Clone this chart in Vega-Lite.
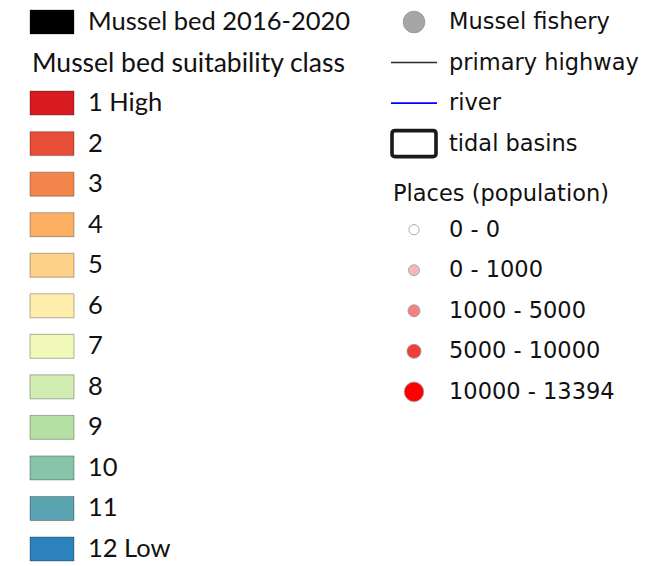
{
  "$schema": "https://vega.github.io/schema/vega-lite/v6.json",
  "width": 646,
  "height": 566,
  "padding": 0,
  "autosize": {"type": "fit", "contains": "padding"},
  "background": "white",
  "config": {"view": {"stroke": null}},
  "data": {"values": [
    {"col": 0, "row": 0, "kind": "swatch", "key": "bed", "label": "Mussel bed 2016-2020"},
    {"col": 0, "row": 1, "kind": "title", "label": "Mussel bed suitability class"},
    {"col": 0, "row": 2, "kind": "swatch", "key": "c1", "label": "1 High"},
    {"col": 0, "row": 3, "kind": "swatch", "key": "c2", "label": "2"},
    {"col": 0, "row": 4, "kind": "swatch", "key": "c3", "label": "3"},
    {"col": 0, "row": 5, "kind": "swatch", "key": "c4", "label": "4"},
    {"col": 0, "row": 6, "kind": "swatch", "key": "c5", "label": "5"},
    {"col": 0, "row": 7, "kind": "swatch", "key": "c6", "label": "6"},
    {"col": 0, "row": 8, "kind": "swatch", "key": "c7", "label": "7"},
    {"col": 0, "row": 9, "kind": "swatch", "key": "c8", "label": "8"},
    {"col": 0, "row": 10, "kind": "swatch", "key": "c9", "label": "9"},
    {"col": 0, "row": 11, "kind": "swatch", "key": "c10", "label": "10"},
    {"col": 0, "row": 12, "kind": "swatch", "key": "c11", "label": "11"},
    {"col": 0, "row": 13, "kind": "swatch", "key": "c12", "label": "12 Low"},
    {"col": 1, "row": 0, "kind": "fishery", "key": "fishery", "label": "Mussel fishery"},
    {"col": 1, "row": 1, "kind": "line", "key": "highway", "label": "primary highway"},
    {"col": 1, "row": 2, "kind": "line", "key": "river", "label": "river"},
    {"col": 1, "row": 3, "kind": "basin", "key": "basin", "label": "tidal basins"},
    {"col": 1, "row": 4, "kind": "title", "label": "Places (population)"},
    {"col": 1, "row": 5, "kind": "place", "key": "p0", "label": "0 - 0"},
    {"col": 1, "row": 6, "kind": "place", "key": "p1", "label": "0 - 1000"},
    {"col": 1, "row": 7, "kind": "place", "key": "p2", "label": "1000 - 5000"},
    {"col": 1, "row": 8, "kind": "place", "key": "p3", "label": "5000 - 10000"},
    {"col": 1, "row": 9, "kind": "place", "key": "p4", "label": "10000 - 13394"}
  ]},
  "encoding": {
    "x": {"field": "col", "type": "quantitative", "axis": null, "scale": {"domain": [0, 1], "range": [52, 414]}},
    "y": {"field": "row", "type": "quantitative", "axis": null, "scale": {"domain": [0, 13], "range": [22, 549]}}
  },
  "layer": [
    {
      "transform": [{"filter": "datum.kind == 'swatch'"}],
      "mark": {"type": "point", "filled": true, "shape": "M-1,-0.545H1V0.545H-1Z", "size": 1936, "opacity": 1, "stroke": "#000000", "strokeOpacity": 0.3, "strokeWidth": 1},
      "encoding": {
        "fill": {"field": "key", "type": "nominal", "legend": null, "scale": {
          "type": "ordinal",
          "domain": ["bed", "c1", "c2", "c3", "c4", "c5", "c6", "c7", "c8", "c9", "c10", "c11", "c12", "fishery", "p0", "p1", "p2", "p3", "p4"],
          "range": ["#000000", "#d91b21", "#e64e37", "#f3854b", "#fdb063", "#fed18b", "#ffedac", "#f1f9ba", "#d2edb1", "#b4e0a3", "#88c4a8", "#5aa3b1", "#2c82ba", "#a6a6a6", "#ffffff", "#f7b8b8", "#f58282", "#f23d3d", "#ff0000"]}}
      }
    },
    {
      "transform": [{"filter": "datum.kind == 'fishery'"}],
      "mark": {"type": "point", "filled": true, "shape": "circle", "size": 470, "opacity": 1, "stroke": "#8f8f8f", "strokeWidth": 0.8},
      "encoding": {
        "fill": {"field": "key", "type": "nominal", "legend": null}
      }
    },
    {
      "transform": [{"filter": "datum.kind == 'place'"}],
      "mark": {"type": "point", "filled": true, "shape": "circle", "opacity": 1, "yOffset": 5, "stroke": "#999999", "strokeWidth": 1, "strokeOpacity": 0.8},
      "encoding": {
        "fill": {"field": "key", "type": "nominal", "legend": null},
        "size": {"field": "key", "type": "nominal", "legend": null, "scale": {"type": "ordinal", "domain": ["p0", "p1", "p2", "p3", "p4"], "range": [105, 120, 145, 195, 380]}}
      }
    },
    {
      "transform": [{"filter": "datum.kind == 'line'"}],
      "mark": {"type": "point", "filled": false, "shape": "M-1,0H1", "size": 2116, "opacity": 1, "strokeWidth": 1.6},
      "encoding": {
        "stroke": {"field": "key", "type": "nominal", "legend": null, "scale": {"type": "ordinal", "domain": ["highway", "river"], "range": ["#2a2a2a", "#0000ff"]}}
      }
    },
    {
      "transform": [{"filter": "datum.kind == 'basin'"}],
      "mark": {"type": "point", "filled": false, "shape": "M-0.864,-0.59H0.864Q1,-0.59 1,-0.454V0.454Q1,0.59 0.864,0.59H-0.864Q-1,0.59 -1,0.454V-0.454Q-1,-0.59 -0.864,-0.59Z", "size": 1936, "opacity": 1, "stroke": "#1a1a1a", "strokeWidth": 3.6}
    },
    {
      "transform": [{"filter": "datum.col == 0 && datum.kind != 'title'"}],
      "mark": {"type": "text", "align": "left", "baseline": "middle", "dx": 36, "font": "Lato", "fontSize": 25.5, "color": "#111111"},
      "encoding": {"text": {"field": "label"}}
    },
    {
      "transform": [{"filter": "datum.col == 0 && datum.kind == 'title'"}],
      "mark": {"type": "text", "align": "left", "baseline": "middle", "dx": -20, "dy": 1, "font": "Lato", "fontSize": 26.5, "color": "#111111"},
      "encoding": {"text": {"field": "label"}}
    },
    {
      "transform": [{"filter": "datum.col == 1 && datum.kind != 'title' && datum.kind != 'place'"}],
      "mark": {"type": "text", "align": "left", "baseline": "middle", "dx": 35, "font": "DejaVu Sans", "fontSize": 22.5, "color": "#111111"},
      "encoding": {"text": {"field": "label"}}
    },
    {
      "transform": [{"filter": "datum.kind == 'place'"}],
      "mark": {"type": "text", "align": "left", "baseline": "middle", "dx": 35, "dy": 5, "font": "DejaVu Sans", "fontSize": 22.5, "color": "#111111"},
      "encoding": {"text": {"field": "label"}}
    },
    {
      "transform": [{"filter": "datum.col == 1 && datum.kind == 'title'"}],
      "mark": {"type": "text", "align": "left", "baseline": "middle", "dx": -21, "dy": 10, "font": "DejaVu Sans", "fontSize": 22.5, "color": "#111111"},
      "encoding": {"text": {"field": "label"}}
    }
  ]
}
